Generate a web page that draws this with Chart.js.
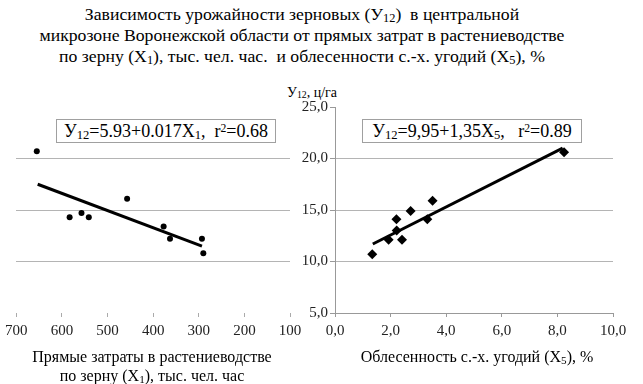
<!DOCTYPE html>
<html>
<head>
<meta charset="utf-8">
<script src="https://cdn.jsdelivr.net/npm/chart.js@4"></script>
<style>
  body { margin: 0; background: #fff; font-family: "Liberation Serif", "DejaVu Serif", serif; color: #000; }
  #wrap { position: relative; width: 643px; height: 384px; overflow: hidden; }
  canvas { position: absolute; top: 0; }
  .txt { position: absolute; white-space: nowrap; }
  sub { font-size: 0.7em; vertical-align: -0.15em; line-height: 0; }
  sup { font-size: 0.65em; vertical-align: 0.45em; line-height: 0; }
  .eq { position: absolute; top: 119px; width: 218px; height: 22px; border: 1px solid #a0a0a0; background: #fff;
        font-size: 18px; line-height: 22px; text-align: center; white-space: nowrap; }
</style>
</head>
<body>
<div id="wrap">
  <div class="txt" style="left:0; top:4px; width:604px; text-align:center; font-size:17.7px; line-height:21px;">
    Зависимость урожайности зерновых (У<sub>12</sub>)&nbsp; в центральной<br>
    микрозоне Воронежской области от прямых затрат в растениеводстве<br>
    по зерну (X<sub>1</sub>), тыс. чел. час.&nbsp; и облесенности с.-х. угодий (X<sub>5</sub>), %
  </div>
  <div class="txt" style="left:287px; top:85px; font-size:14px;">У<sub>12</sub>, ц/га</div>
  <canvas id="left" width="310" height="384" style="left:0"></canvas>
  <canvas id="right" width="343" height="384" style="left:300px"></canvas>
  <div class="eq" style="left:56px;">У<sub>12</sub>=5.93+0.017X<sub>1</sub>,&nbsp; r<sup>2</sup>=0.68</div>
  <div class="eq" style="left:362px;">У<sub>12</sub>=9,95+1,35X<sub>5</sub>,&nbsp;&nbsp; r<sup>2</sup>=0.89</div>
  <div class="txt" style="left:0; width:304px; top:347px; text-align:center; font-size:16px; line-height:19px;">
    Прямые затраты в растениеводстве<br>по зерну (X<sub>1</sub>), тыс. чел. час
  </div>
  <div class="txt" style="left:330px; width:294px; top:347px; text-align:center; font-size:16px; line-height:19px;">
    Облесенность с.-х. угодий (X<sub>5</sub>), %
  </div>
</div>
<script>
// left panel: direct costs X1 vs yield
const x1Vals = [655, 583, 557, 541, 457, 377, 363, 293, 290];
const y1Vals = [20.7, 14.3, 14.7, 14.3, 16.1, 13.4, 12.2, 12.2, 10.8];
const trend1X = [653, 293];
const trend1Y = [17.5, 11.5];

// right panel: forest cover X5 vs yield
const x5Vals = [1.34, 1.93, 2.21, 2.22, 2.41, 2.72, 3.32, 3.51, 8.24];
const y5Vals = [10.7, 12.1, 14.1, 13.0, 12.1, 14.9, 14.1, 15.9, 20.6];
const trend5X = [1.36, 8.19];
const trend5Y = [11.7, 21.0];

const yMin = 5, yMax = 25, yStep = 5;
const gridVals = [10, 15, 20];

Chart.defaults.font.family = '"Liberation Serif", "DejaVu Serif", serif';
Chart.defaults.font.size = 15;
Chart.defaults.color = '#222';

const toPts = (xs, ys) => xs.map((x, i) => ({ x: x, y: ys[i] }));
const gridColor = ctx => gridVals.includes(ctx.tick && ctx.tick.value) ? '#b4b4b4' : 'rgba(0,0,0,0)';

function makeChart(id, pts, trend, pointStyle, radius, xOpts, yOpts, padding) {
  return new Chart(document.getElementById(id), {
    type: 'scatter',
    data: {
      datasets: [
        { data: pts, pointStyle: pointStyle, pointRadius: radius, backgroundColor: '#000', borderColor: '#000', borderWidth: 0 },
        { type: 'line', data: trend, showLine: true, pointRadius: 0, borderColor: '#000', borderWidth: 3, fill: false }
      ]
    },
    options: {
      responsive: false,
      animation: false,
      layout: { padding: padding },
      plugins: { legend: { display: false }, tooltip: { enabled: false } },
      scales: { x: xOpts, y: yOpts }
    }
  });
}

makeChart('left', toPts(x1Vals, y1Vals), toPts(trend1X, trend1Y), 'circle', 3,
  {
    type: 'linear', min: 100, max: 700, reverse: true,
    ticks: { stepSize: 100, padding: 5, maxRotation: 0 },
    grid: { drawOnChartArea: false, tickLength: 4, tickColor: '#aaa' },
    border: { display: false },
    afterFit: s => { s.height = 25; }
  },
  {
    min: yMin, max: yMax,
    ticks: { display: false, stepSize: yStep },
    grid: { color: gridColor, drawTicks: false },
    border: { display: false },
    afterFit: s => { s.width = 0; }
  },
  { left: 16, right: 20, top: 107, bottom: 46 }
);

makeChart('right', toPts(x5Vals, y5Vals), toPts(trend5X, trend5Y), 'rectRot', 5,
  {
    type: 'linear', min: 0, max: 10,
    ticks: { stepSize: 2, padding: 5, maxRotation: 0, callback: v => v.toFixed(1).replace('.', ',') },
    grid: { drawOnChartArea: false, tickLength: 4, tickColor: '#999' },
    border: { color: '#999' },
    afterFit: s => { s.height = 25; }
  },
  {
    min: yMin, max: yMax,
    ticks: { stepSize: yStep, padding: 2, callback: v => v.toFixed(1).replace('.', ',') },
    grid: { color: gridColor, tickColor: '#999', tickLength: 5 },
    border: { color: '#999' },
    afterFit: s => { s.width = 35; }
  },
  { left: 0, right: 30, top: 107, bottom: 46 }
);
</script>
</body>
</html>
